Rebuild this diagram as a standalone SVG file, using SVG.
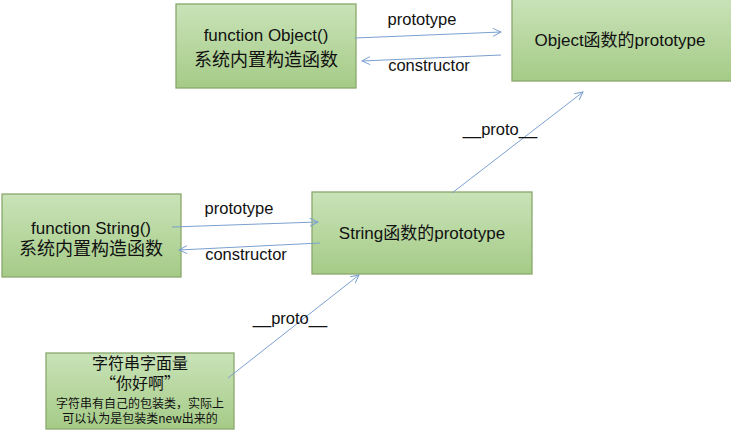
<svg xmlns="http://www.w3.org/2000/svg" width="731" height="430" viewBox="0 0 731 430">
<style>
.box{fill:url(#g);stroke:#8aa86c;stroke-width:1.3}
.t{font-family:"Liberation Sans","Noto Sans CJK SC",sans-serif;font-size:17px;fill:#111;text-anchor:middle}
.c{font-family:"Noto Sans CJK SC","Liberation Sans",sans-serif;fill:#111;text-anchor:middle}
.l{font-family:"Liberation Sans",sans-serif;font-size:16.5px;fill:#111;text-anchor:middle}
.a{stroke:#7ba0cf;stroke-width:1;fill:none;marker-end:url(#m)}
</style>
<defs>
<linearGradient id="g" x1="0" y1="0" x2="0" y2="1">
<stop offset="0" stop-color="#c9e3b8"/>
<stop offset="1" stop-color="#a5cb87"/>
</linearGradient>
<marker id="m" viewBox="0 0 10 10" refX="9" refY="5" markerWidth="10" markerHeight="10" markerUnits="userSpaceOnUse" orient="auto">
<path d="M1,1 L9,5 L1,9" fill="none" stroke="#7ba0cf" stroke-width="1"/>
</marker>
</defs>
<rect width="731" height="430" fill="#fff"/>
<g id="objFunc">
<rect class="box" x="176" y="4" width="180" height="84"/>
<text class="t" x="266" y="41">function Object()</text>
<text class="c" x="266" y="66" font-size="18">系统内置构造函数</text>
</g>
<g id="objProto">
<rect class="box" x="512" y="-2" width="225" height="83"/>
<text class="t" x="620" y="46">Object函数的prototype</text>
</g>
<g id="strFunc">
<rect class="box" x="2" y="194" width="179" height="83"/>
<text class="t" x="91" y="234">function String()</text>
<text class="c" x="91" y="255" font-size="18">系统内置构造函数</text>
</g>
<g id="strProto">
<rect class="box" x="312" y="192" width="220" height="82"/>
<text class="t" x="422" y="239">String函数的prototype</text>
</g>
<g id="literal">
<rect class="box" x="46" y="353" width="188" height="76"/>
<text class="c" x="140" y="369" font-size="16">字符串字面量</text>
<text class="c" x="140" y="389" font-size="16">“你好啊”</text>
<text class="c" x="140" y="408" font-size="12">字符串有自己的包装类，实际上</text>
<text class="c" x="140" y="423" font-size="12">可以认为是包装类new出来的</text>
</g>
<g id="connectors">
<line class="a" x1="355" y1="38" x2="501" y2="32"/>
<line class="a" x1="501" y1="55" x2="362" y2="61"/>
<line class="a" x1="172" y1="227" x2="318" y2="222"/>
<line class="a" x1="320" y1="243" x2="179" y2="250"/>
<line class="a" x1="452" y1="193" x2="583" y2="92"/>
<line class="a" x1="228" y1="378" x2="359" y2="275"/>
<text class="l" x="422" y="25">prototype</text>
<text class="l" x="429" y="71">constructor</text>
<text class="l" x="239" y="214">prototype</text>
<text class="l" x="246" y="260">constructor</text>
<text class="l" x="500" y="135">__proto__</text>
<text class="l" x="290" y="324">__proto__</text>
</g>
</svg>
